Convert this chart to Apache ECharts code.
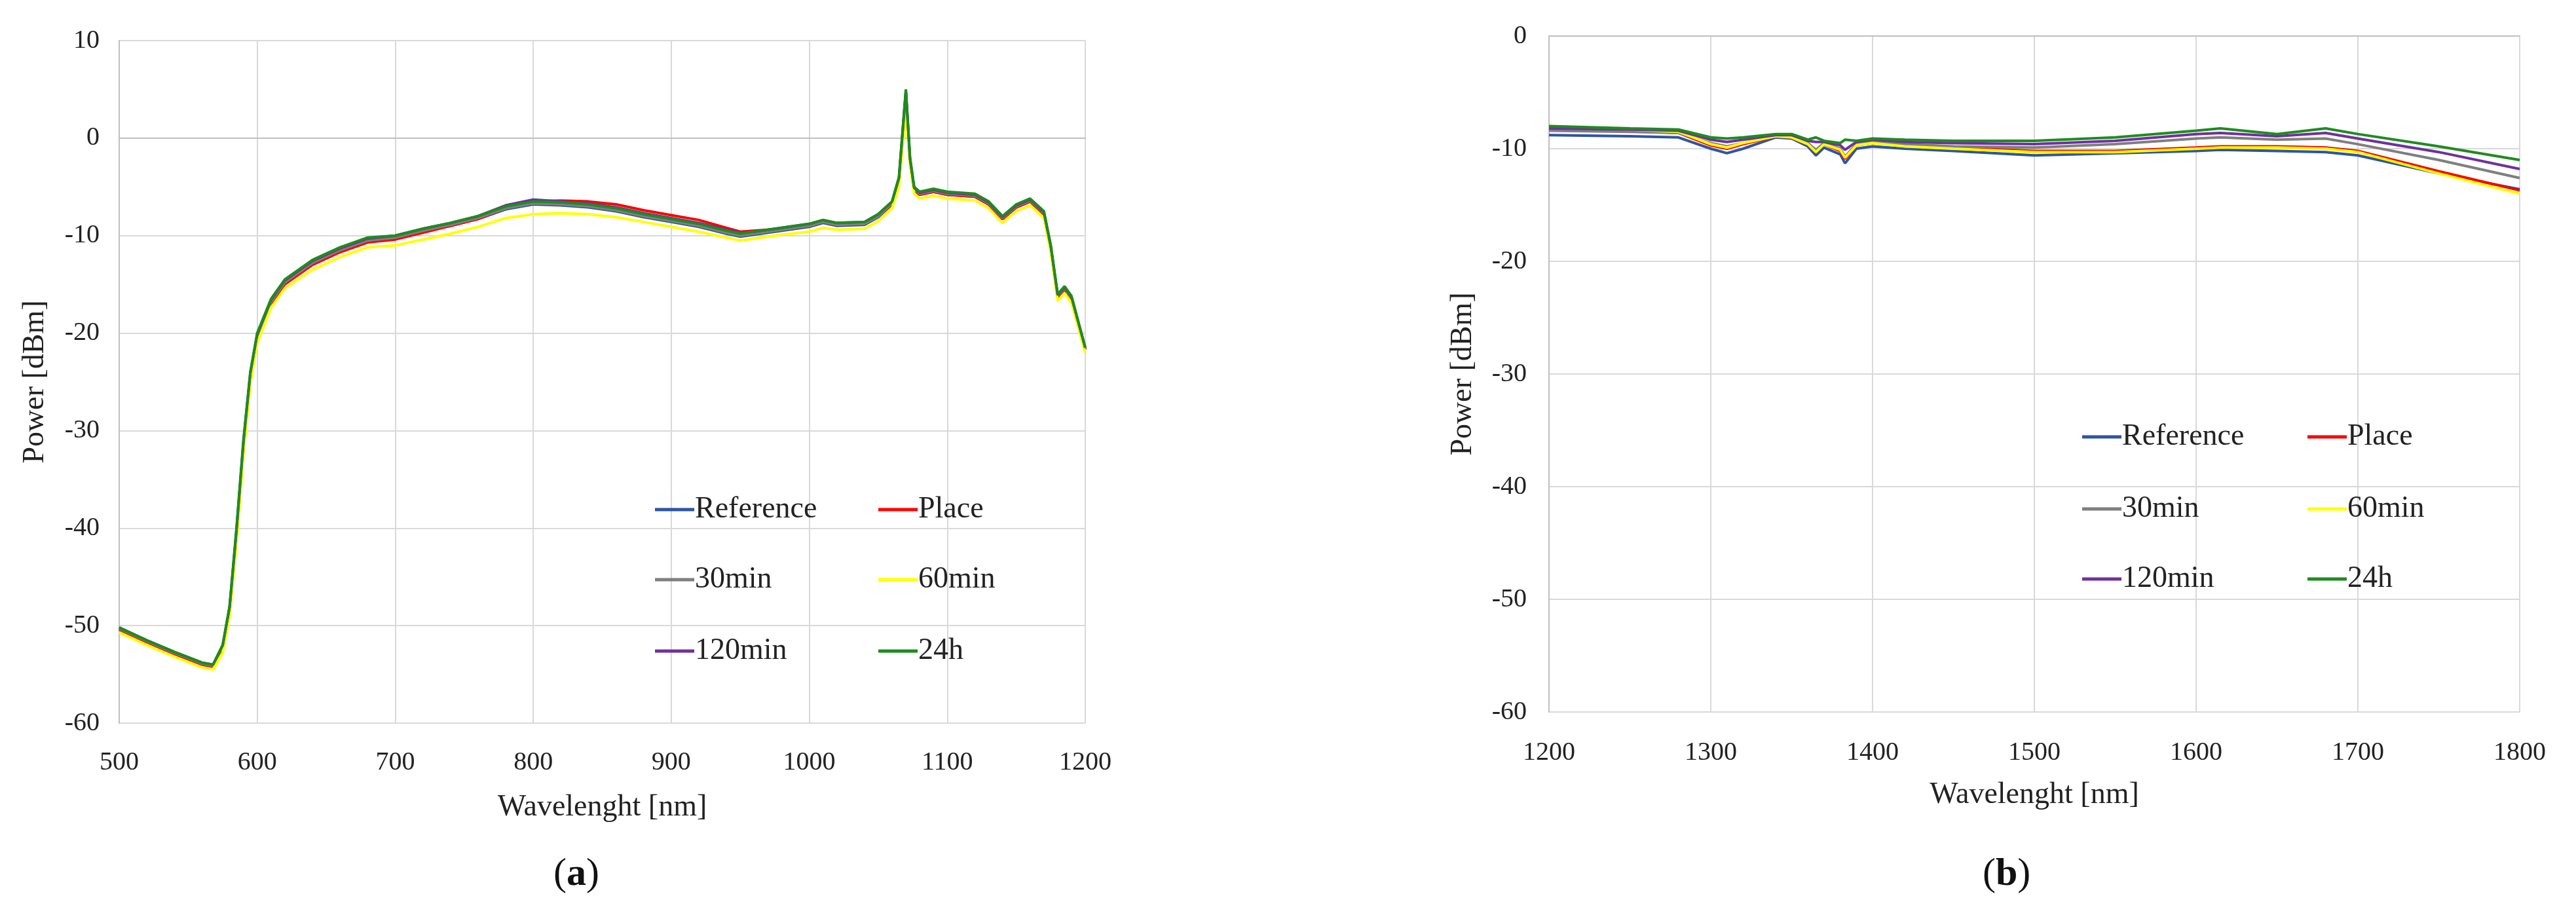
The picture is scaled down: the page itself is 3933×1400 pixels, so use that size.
<!DOCTYPE html>
<html>
<head>
<meta charset="utf-8">
<script src="https://cdn.jsdelivr.net/npm/echarts@6/dist/echarts.min.js"></script>
<style>
  html, body { margin: 0; padding: 0; background: #fff; }
  #chart { width: 3933px; height: 1400px; }
</style>
</head>
<body>
<div id="chart"></div>
<script>
// ---------------------------- chart (a) data ----------------------------
var wlA = [500, 520, 540, 560, 568, 575, 580, 585, 590, 595, 600, 610, 620, 640, 660, 680,
  700, 720, 740, 760, 780, 800, 820, 840, 860, 880, 900, 920, 940, 950, 960, 980,
  1000, 1010, 1020, 1040, 1050, 1060, 1065, 1070, 1073, 1076, 1080, 1090, 1100, 1120,
  1130, 1140, 1150, 1160, 1170, 1175, 1180, 1185, 1190, 1200];

var refA = [-50.3, -51.6, -52.8, -53.9, -54.1, -52.2, -48.3, -40.5, -31.5, -24.4, -20.4, -16.9, -14.9, -12.9, -11.6, -10.6,
  -10.3, -9.6, -9.0, -8.3, -7.3, -6.8, -6.9, -7.1, -7.5, -8.1, -8.6, -9.1, -9.8, -10.1, -9.9, -9.5,
  -9.1, -8.7, -9.0, -8.9, -8.1, -6.8, -4.4, 4.6, -2.4, -5.3, -5.8, -5.5, -5.8, -6.0,
  -6.8, -8.3, -7.1, -6.5, -7.8, -11.3, -16.3, -15.5, -16.5, -21.7];
var placeA = [-50.4, -51.7, -52.9, -54.0, -54.2, -52.3, -48.5, -40.8, -31.8, -24.6, -20.6, -17.0, -15.0, -13.0, -11.7, -10.7,
  -10.4, -9.7, -9.0, -8.3, -7.2, -6.5, -6.4, -6.5, -6.8, -7.4, -7.9, -8.4, -9.2, -9.6, -9.5, -9.3,
  -9.0, -8.6, -8.9, -8.8, -8.0, -6.8, -4.5, 4.5, -2.5, -5.3, -5.8, -5.5, -5.8, -6.0,
  -6.8, -8.3, -7.1, -6.5, -7.8, -11.3, -16.3, -15.5, -16.5, -21.7];
var m30A = [-50.3, -51.6, -52.8, -53.9, -54.1, -52.2, -48.3, -40.4, -31.4, -24.3, -20.3, -16.8, -14.8, -12.8, -11.5, -10.5,
  -10.2, -9.5, -8.9, -8.2, -7.2, -6.7, -6.8, -7.0, -7.4, -8.0, -8.5, -9.0, -9.7, -10.0, -9.8, -9.4,
  -9.0, -8.6, -8.9, -8.8, -8.0, -6.7, -4.3, 4.7, -2.3, -5.2, -5.7, -5.4, -5.7, -5.9,
  -6.7, -8.2, -7.0, -6.4, -7.7, -11.2, -16.2, -15.4, -16.4, -21.6];
var m60A = [-50.7, -52.0, -53.2, -54.3, -54.5, -52.8, -49.0, -41.5, -32.5, -25.2, -21.0, -17.4, -15.4, -13.5, -12.2, -11.2,
  -11.0, -10.4, -9.8, -9.1, -8.2, -7.8, -7.7, -7.8, -8.1, -8.6, -9.1, -9.6, -10.2, -10.5, -10.3, -9.9,
  -9.6, -9.2, -9.4, -9.3, -8.5, -7.2, -5.0, 3.0, -2.8, -5.7, -6.2, -5.9, -6.2, -6.4,
  -7.2, -8.7, -7.5, -6.9, -8.2, -11.7, -16.7, -15.9, -16.9, -22.0];
var m120A = [-50.2, -51.5, -52.7, -53.8, -54.0, -52.0, -48.1, -40.2, -31.2, -24.1, -20.1, -16.6, -14.6, -12.6, -11.3, -10.3,
  -10.0, -9.3, -8.7, -8.0, -6.9, -6.3, -6.5, -6.7, -7.1, -7.7, -8.2, -8.7, -9.4, -9.7, -9.6, -9.2,
  -8.8, -8.4, -8.7, -8.6, -7.8, -6.5, -4.1, 4.8, -2.1, -5.1, -5.6, -5.3, -5.6, -5.8,
  -6.6, -8.1, -6.9, -6.3, -7.6, -11.1, -16.1, -15.3, -16.3, -21.5];
var h24A = [-50.2, -51.5, -52.7, -53.8, -54.0, -52.0, -48.0, -40.0, -31.0, -24.0, -20.0, -16.5, -14.5, -12.5, -11.2, -10.2,
  -10.0, -9.3, -8.7, -8.0, -7.0, -6.5, -6.6, -6.8, -7.2, -7.8, -8.3, -8.8, -9.5, -9.8, -9.6, -9.2,
  -8.8, -8.4, -8.7, -8.6, -7.8, -6.5, -4.0, 5.0, -2.0, -5.0, -5.5, -5.2, -5.5, -5.7,
  -6.5, -8.0, -6.8, -6.2, -7.5, -11.0, -16.0, -15.2, -16.2, -21.5];

// ---------------------------- chart (b) data ----------------------------
var wlB = [1200, 1250, 1280, 1300, 1310, 1320, 1340, 1350, 1360, 1365, 1370, 1380, 1383,
  1390, 1400, 1420, 1450, 1500, 1550, 1600, 1615, 1650, 1680, 1700, 1750, 1800];

var refB = [-8.8, -8.9, -9.0, -10.0, -10.4, -10.0, -9.0, -9.1, -9.8, -10.6, -9.9, -10.5, -11.3,
  -10.0, -9.8, -10.0, -10.2, -10.6, -10.4, -10.2, -10.1, -10.2, -10.3, -10.6, -12.2, -13.6];
var placeB = [-8.2, -8.4, -8.6, -9.7, -10.0, -9.6, -8.9, -9.0, -9.6, -10.3, -9.6, -10.2, -10.9,
  -9.7, -9.5, -9.7, -9.9, -10.2, -10.2, -9.9, -9.8, -9.8, -9.9, -10.2, -12.0, -13.7];
var m30B = [-8.4, -8.5, -8.6, -9.5, -9.8, -9.5, -8.8, -8.9, -9.5, -10.1, -9.5, -10.0, -10.7,
  -9.6, -9.4, -9.6, -9.8, -9.9, -9.6, -9.1, -9.0, -9.2, -9.1, -9.6, -11.0, -12.6];
var m60B = [-8.0, -8.3, -8.5, -9.6, -9.9, -9.5, -8.9, -9.0, -9.6, -10.3, -9.6, -10.1, -10.8,
  -9.7, -9.5, -9.8, -10.0, -10.3, -10.3, -10.0, -9.9, -9.9, -10.0, -10.3, -12.2, -14.0];
var m120B = [-8.2, -8.3, -8.4, -9.2, -9.4, -9.2, -8.8, -8.8, -9.3, -9.4, -9.4, -9.7, -10.1,
  -9.4, -9.2, -9.4, -9.5, -9.6, -9.3, -8.7, -8.6, -8.9, -8.6, -9.1, -10.3, -11.8];
var h24B = [-8.0, -8.2, -8.3, -9.0, -9.1, -9.0, -8.7, -8.7, -9.2, -9.0, -9.3, -9.5, -9.2,
  -9.3, -9.1, -9.2, -9.3, -9.3, -9.0, -8.4, -8.2, -8.7, -8.2, -8.7, -9.8, -11.0];

var names = ['Reference', 'Place', '30min', '60min', '120min', '24h'];
var colors = ['#2E54A4', '#FF0000', '#7F7F7F', '#FFFF00', '#7030A0', '#1E8C1E'];
var dataA = [refA, placeA, m30A, m60A, m120A, h24A];
var dataB = [refB, placeB, m30B, m60B, m120B, h24B];

var FONT = '"Liberation Serif", "Times New Roman", serif';

function zip(xs, ys) {
  var out = [], i;
  for (i = 0; i < xs.length; i++) { out.push([xs[i], ys[i]]); }
  return out;
}

function makeAxis(min, max, interval, name, gap, margin) {
  return {
    type: 'value', gridIndex: 0, min: min, max: max, interval: interval,
    name: name, nameLocation: 'middle', nameGap: gap,
    nameTextStyle: { fontFamily: FONT, fontSize: 46, color: '#222' },
    axisLine: { show: true, lineStyle: { color: '#BFBFBF', width: 2 } },
    axisTick: { show: false },
    axisLabel: { fontFamily: FONT, fontSize: 40, color: '#222', margin: margin,
      formatter: function (v) { return String(v); } },
    splitLine: { show: true, lineStyle: { color: '#D9D9D9', width: 2 } }
  };
}

var xA = makeAxis(500, 1200, 100, 'Wavelenght [nm]', 106, 40);
var yA = makeAxis(-60, 10, 10, 'Power [dBm]', 105, 30);
var xB = makeAxis(1200, 1800, 100, 'Wavelenght [nm]', 104, 42);
var yB = makeAxis(-60, 0, 10, 'Power [dBm]', 108, 34);
xB.gridIndex = 1; yB.gridIndex = 1;

var series = [], legends = [], i;
for (i = 0; i < names.length; i++) {
  series.push({
    name: names[i], type: 'line', xAxisIndex: 0, yAxisIndex: 0, showSymbol: false,
    data: zip(wlA, dataA[i]), color: colors[i], lineStyle: { width: 4 }, animation: false
  });
  series.push({
    name: names[i], type: 'line', xAxisIndex: 1, yAxisIndex: 1, showSymbol: false,
    data: zip(wlB, dataB[i]), color: colors[i], lineStyle: { width: 4 }, animation: false
  });
}

// legend boxes: two columns, three rows per chart
var legPosA = { col: [995, 1336], row: [776, 883, 992] };
var legPosB = { col: [3174, 3518], row: [665, 775, 882] };
[legPosA, legPosB].forEach(function (pos) {
  names.forEach(function (n, k) {
    legends.push({
      data: [n], left: pos.col[k % 2], top: pos.row[Math.floor(k / 2)] - 26,
      icon: 'rect', itemWidth: 60, itemHeight: 5, itemGap: 4,
      textStyle: { fontFamily: FONT, fontSize: 46, color: '#222', padding: [0, 0, 0, -4] }
    });
  });
});

var chart = echarts.init(document.getElementById('chart'));
chart.setOption({
  backgroundColor: '#fff',
  animation: false,
  grid: [
    { left: 182, top: 62, width: 1475, height: 1042 },
    { left: 2365, top: 55, width: 1482, height: 1032 }
  ],
  xAxis: [xA, xB],
  yAxis: [yA, yB],
  legend: legends,
  series: series,
  graphic: [
    { type: 'text', left: 845, top: 1305, style: {
      text: '({b|a})', font: '60px ' + FONT, fill: '#111',
      rich: { b: { fontFamily: FONT, fontSize: 60, fontWeight: 'bold' } } } },
    { type: 'text', left: 3027, top: 1305, style: {
      text: '({b|b})', font: '60px ' + FONT, fill: '#111',
      rich: { b: { fontFamily: FONT, fontSize: 60, fontWeight: 'bold' } } } }
  ]
});
</script>
</body>
</html>
